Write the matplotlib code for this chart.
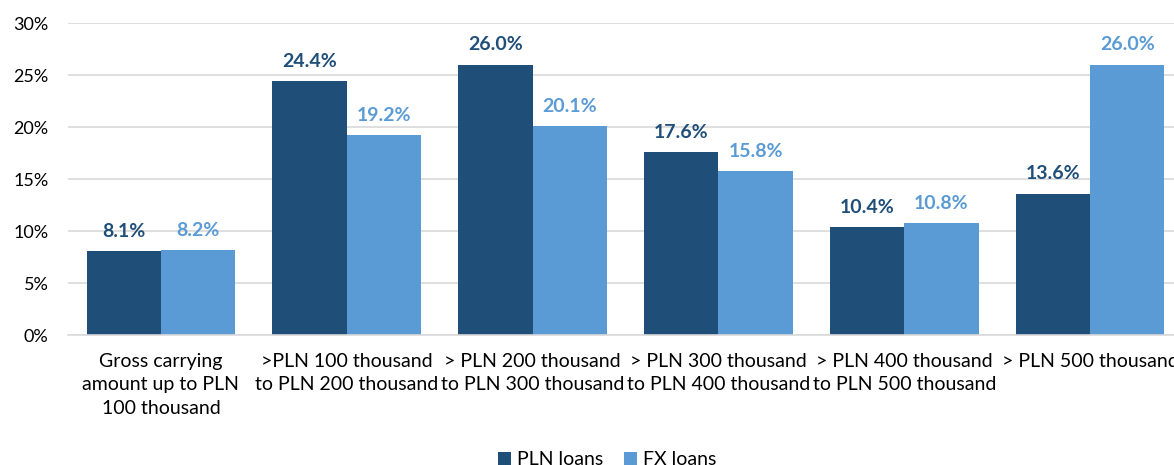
import matplotlib
matplotlib.use("Agg")
import matplotlib.pyplot as plt
import numpy as np

categories = [
    "Gross carrying\namount up to PLN\n100 thousand",
    ">PLN 100 thousand\nto PLN 200 thousand",
    "> PLN 200 thousand\nto PLN 300 thousand",
    "> PLN 300 thousand\nto PLN 400 thousand",
    "> PLN 400 thousand\nto PLN 500 thousand",
    "> PLN 500 thousand",
]
pln_loans = [8.1, 24.4, 26.0, 17.6, 10.4, 13.6]
fx_loans = [8.2, 19.2, 20.1, 15.8, 10.8, 26.0]
yticks = [0, 5, 10, 15, 20, 25, 30]

c_pln = "#1F4E79"
c_fx = "#5B9BD5"

plt.rcParams['font.family'] = ['Lato', 'DejaVu Sans']

fig = plt.figure(figsize=(11.74, 4.65), dpi=100)
ax = fig.add_axes([68/1174, 130/465, 1115/1174, 312/465])

x = np.arange(len(categories))
w = 0.4
b1 = ax.bar(x - w/2, pln_loans, w, color=c_pln, label="PLN loans")
b2 = ax.bar(x + w/2, fx_loans, w, color=c_fx, label="FX loans")

for xi, v in zip(x, pln_loans):
    ax.annotate(f"{v:.1f}%", (xi - w/2, v), xytext=(0, 8), textcoords="offset points",
                ha="center", va="bottom", fontsize=14, fontweight="bold", color=c_pln)
for xi, v in zip(x, fx_loans):
    ax.annotate(f"{v:.1f}%", (xi + w/2, v), xytext=(0, 8), textcoords="offset points",
                ha="center", va="bottom", fontsize=14, fontweight="bold", color=c_fx)

ax.set_xlim(-0.5, len(categories) - 0.5)
ax.set_ylim(0, 30)
ax.set_yticks(yticks)
ax.set_yticklabels([f"{t}%" for t in yticks], fontsize=13)
ax.set_xticks(x)
ax.set_xticklabels(categories, fontsize=14, linespacing=1.45, va="top")
ax.tick_params(axis="both", length=0, colors="black")
ax.tick_params(axis="x", pad=13)
ax.tick_params(axis="y", pad=14)
ax.yaxis.grid(True, color="#D9D9D9", linewidth=1.2)
ax.set_axisbelow(True)
for s in ["top", "right", "left"]:
    ax.spines[s].set_visible(False)
ax.spines["bottom"].set_color("#D9D9D9")
ax.spines["bottom"].set_linewidth(1.2)

fig.legend(handles=[b1, b2], loc="lower center", bbox_to_anchor=(607/1174, -0.045),
           ncol=2, frameon=False, fontsize=14, handlelength=0.7, handleheight=0.7,
           handletextpad=0.3, columnspacing=1.05)

fig.savefig("out.png", dpi=100)
